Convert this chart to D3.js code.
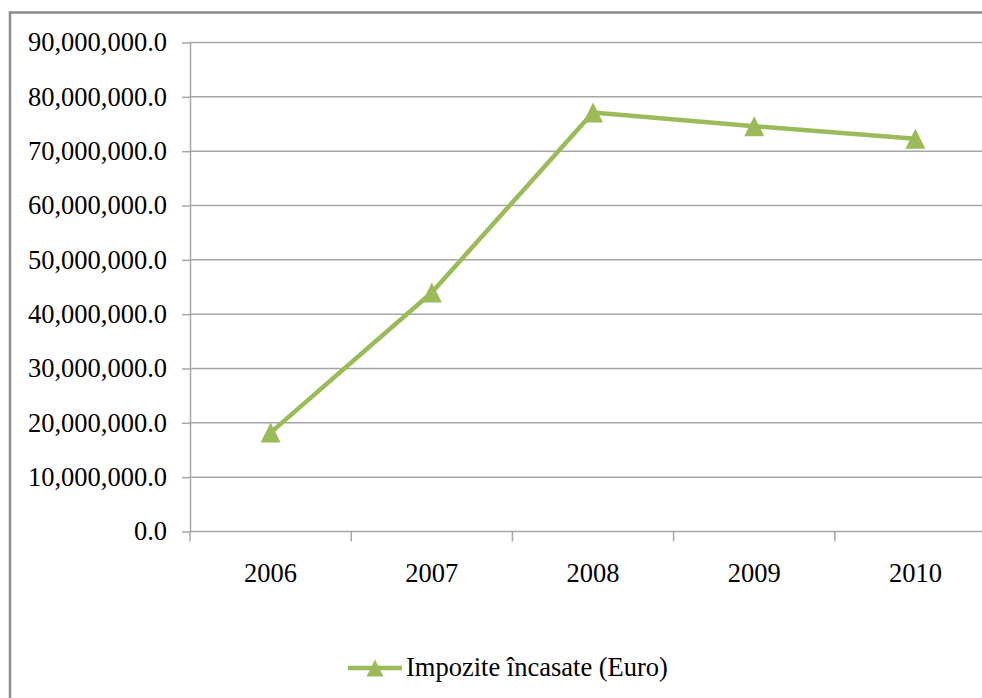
<!DOCTYPE html>
<html>
<head>
<meta charset="utf-8">
<script src="https://cdn.jsdelivr.net/npm/d3@7"></script>
<style>
  html, body { margin: 0; padding: 0; background: #fff; overflow: hidden; }
  svg { display: block; font-family: "Liberation Serif", "Times New Roman", serif; }
</style>
</head>
<body>
<svg id="chart" width="982" height="698"></svg>
<script>
/* Impozite încasate (Euro), 2006–2010 — Excel-style line chart with triangle markers. */
(() => {
  "use strict";

  const years = ["2006", "2007", "2008", "2009", "2010"];
  const taxes = [18200000, 44000000, 77100000, 74600000, 72300000];
  const yTicks = [0, 10e6, 20e6, 30e6, 40e6, 50e6, 60e6, 70e6, 80e6, 90e6];
  const seriesName = "Impozite încasate (Euro)";

  const GREEN = "#9bbb59";
  const GRID = "#a6a6a6";
  const FONT = 26.5;

  const svg = d3.select("#chart");

  // outer chart frame (runs off the right and bottom of the shot)
  svg.append("rect")
    .attr("x", 10).attr("y", 12.5)
    .attr("width", 1000).attr("height", 720)
    .attr("fill", "#fff")
    .attr("stroke", "#8c8c8c")
    .attr("stroke-width", 2.5);

  const x = d3.scaleBand().domain(years).range([190, 996]).padding(0);
  const y = d3.scaleLinear().domain([0, 90e6]).range([531.5, 42.5]);
  const fmt = d3.format(",.1f");

  // horizontal gridlines
  svg.append("g")
    .selectAll("line")
    .data(yTicks.filter((t) => t > 0))
    .join("line")
    .attr("x1", 190).attr("x2", 996)
    .attr("y1", (d) => y(d)).attr("y2", (d) => y(d))
    .attr("stroke", GRID)
    .attr("stroke-width", 1.5);

  // y axis
  const yAxis = svg.append("g")
    .attr("transform", "translate(190,0)")
    .call(d3.axisLeft(y).tickValues(yTicks).tickFormat(fmt).tickSize(8).tickSizeOuter(0).tickPadding(15));
  yAxis.select(".domain").attr("stroke", GRID).attr("stroke-width", 1.5);
  yAxis.selectAll(".tick line").attr("stroke", GRID).attr("stroke-width", 1.5);
  yAxis.selectAll(".tick text")
    .attr("fill", "#000")
    .style("font-size", FONT + "px")
    .style("font-family", "'Liberation Serif', 'Times New Roman', serif");

  // x axis: ticks at category boundaries, labels at band centres
  const xg = svg.append("g").attr("transform", `translate(0,${y(0)})`);
  xg.append("line")
    .attr("x1", 190).attr("x2", 996)
    .attr("stroke", GRID).attr("stroke-width", 1.5);
  xg.selectAll("line.tick")
    .data(years)
    .join("line")
    .attr("class", "tick")
    .attr("x1", (d) => x(d)).attr("x2", (d) => x(d))
    .attr("y1", 0).attr("y2", 10)
    .attr("stroke", GRID).attr("stroke-width", 1.5);
  xg.selectAll("text")
    .data(years)
    .join("text")
    .attr("x", (d) => x(d) + x.bandwidth() / 2)
    .attr("y", 50)
    .attr("text-anchor", "middle")
    .style("font-size", FONT + "px")
    .text((d) => d);

  // series line + triangle markers
  const pts = years.map((yr, i) => ({ yr, v: taxes[i] }));
  const cx = (d) => x(d.yr) + x.bandwidth() / 2;

  svg.append("path")
    .datum(pts)
    .attr("fill", "none")
    .attr("stroke", GREEN)
    .attr("stroke-width", 4.5)
    .attr("stroke-linejoin", "round")
    .attr("d", d3.line().x(cx).y((d) => y(d.v)));

  const tri = (w, h) => `M0,${-h / 2}L${w / 2},${h / 2}L${-w / 2},${h / 2}Z`;

  svg.append("g")
    .selectAll("path")
    .data(pts)
    .join("path")
    .attr("transform", (d) => `translate(${cx(d)},${y(d.v)})`)
    .attr("d", tri(20, 20))
    .attr("fill", GREEN);

  // legend
  const lg = svg.append("g").attr("transform", "translate(348,668)");
  lg.append("line")
    .attr("x1", 0).attr("x2", 54)
    .attr("stroke", GREEN).attr("stroke-width", 4.5);
  lg.append("path")
    .attr("transform", "translate(27,0)")
    .attr("d", tri(17, 17))
    .attr("fill", GREEN);
  lg.append("text")
    .attr("x", 58)
    .attr("y", 8)
    .style("font-size", FONT + "px")
    .text(seriesName);
})();
</script>
</body>
</html>
